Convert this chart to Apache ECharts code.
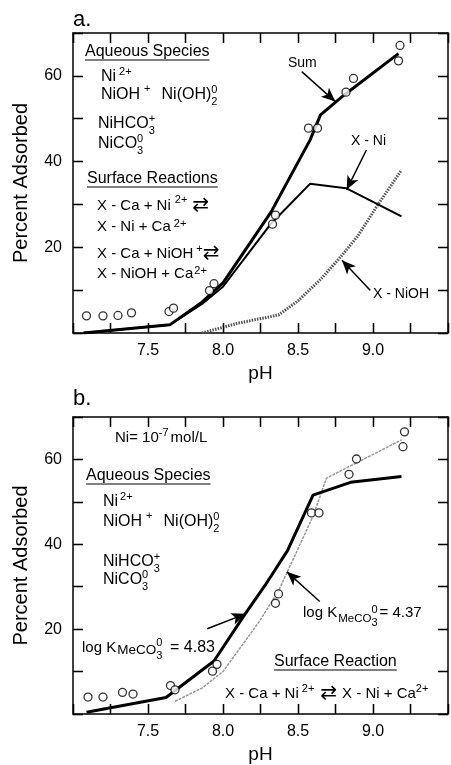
<!DOCTYPE html>
<html><head><meta charset="utf-8">
<script src="https://cdn.jsdelivr.net/npm/echarts@6/dist/echarts.min.js"></script>
<style>html,body{margin:0;padding:0;background:#fff}#c{width:451px;height:765px}</style>
</head><body><div id="c"></div>
<script>
// ---------- Panel a data ----------
const aObsPH   = [7.09, 7.20, 7.30, 7.39, 7.64, 7.67, 7.91, 7.94, 8.33, 8.35, 8.57, 8.63, 8.82, 8.87, 9.18, 9.17];
const aObsPct  = [4.0, 4.0, 4.1, 4.7, 5.0, 5.8, 9.9, 11.5, 25.4, 27.5, 47.8, 47.8, 56.2, 59.4, 67.1, 63.5];
const aSumPH   = [7.07, 7.645, 7.86, 8.0, 8.32, 8.58, 8.65, 8.81, 9.17];
const aSumPct  = [0, 1.9, 7.2, 11.7, 28.2, 45.0, 50.9, 55.6, 65.2];
const aNiPH    = [7.07, 7.645, 7.86, 8.0, 8.32, 8.58, 8.82, 9.19];
const aNiPct   = [0, 1.9, 6.8, 10.8, 25.5, 34.8, 33.8, 27.2];
const aNiOHPH  = [7.86, 8.1, 8.37, 8.5, 8.65, 8.79, 8.9, 9.03, 9.19];
const aNiOHPct = [0, 2.3, 4.2, 7.5, 12.5, 18.0, 22.7, 29.8, 38.0];
// ---------- Panel b data ----------
const bObsPH   = [7.10, 7.20, 7.33, 7.40, 7.65, 7.68, 7.93, 7.96, 8.35, 8.37, 8.59, 8.64, 8.84, 8.89, 9.21, 9.20];
const bObsPct  = [4.0, 4.0, 5.1, 4.7, 6.7, 5.7, 10.1, 11.7, 26.1, 28.3, 47.4, 47.4, 56.5, 60.1, 66.5, 63.0];
const b483PH   = [7.09, 7.62, 7.94, 8.14, 8.28, 8.43, 8.60, 8.85, 9.19];
const b483Pct  = [0.4, 3.9, 12.5, 23.2, 30.3, 38.5, 51.6, 54.6, 56.0];
const b437PH   = [7.68, 7.86, 8.0, 8.24, 8.37, 8.60, 8.69, 8.885, 9.19];
const b437Pct  = [3.0, 6.1, 10.0, 21.7, 29.0, 46.6, 55.6, 59.1, 64.6];
// ---------- Tick labels ----------
const xTickLabels = ['7.5', '8.0', '8.5', '9.0'];
const yTickLabels = ['20', '40', '60'];
// ---------- Annotation arrows (data coords: [start],[tip]) ----------
const aArrowSum  = [[8.525, 61.0], [8.749, 54.0]];
const aArrowNi   = [[8.956, 42.7], [8.824, 33.4]];
const aArrowNiOH = [[8.981, 10.0], [8.793, 17.0]];
const bArrow483  = [[7.895, 20.1], [8.150, 23.6]];
const bArrow437  = [[8.645, 26.5], [8.426, 33.5]];

const X_MIN = 7, X_MAX = 9.5, X_STEP = 0.25, Y_MIN = 0, Y_MAX = 70, Y_STEP = 10;
const TICK_DX = 0.066, TICK_DY = 2.34; // ~10 px inward tick length in data units

const zip = (xs, ys) => xs.map((x, i) => [x, ys[i]]);
const FONT = '"Liberation Sans", Arial, Helvetica, sans-serif';
const mctx = document.createElement('canvas').getContext('2d');
function tw(t, s, f) { mctx.font = s + 'px ' + (f || FONT); return mctx.measureText(t).width; }
function T(x, y, text, size, f) {
  return { type: 'text', x: x, y: y, silent: true, z: 100,
    style: { text: text, fontSize: size, fontFamily: f || FONT, fill: '#000', verticalAlign: 'middle', align: 'left' } };
}
function line(x, y, parts, base) {
  base = base || 16; const out = []; let cx = x;
  for (const p of parts) {
    if (typeof p === 'string') { out.push(T(cx, y, p, base)); cx += tw(p, base); }
    else if (p.gap !== undefined) { cx += p.gap; }
    else if (p.at !== undefined) { cx = p.at; }
    else if (p.t !== undefined) { const s = p.size || base; out.push(T(cx, y + (p.dy || 0), p.t, s, p.f)); cx += tw(p.t, s, p.f); }
    else {
      const s = p.size || 11; let adv = 0;
      if (p.sup !== undefined) { out.push(T(cx, y - (p.up || 6), p.sup, s)); adv = Math.max(adv, tw(p.sup, s)); }
      if (p.sub !== undefined) { out.push(T(cx, y + (p.down || 6), p.sub, s)); adv = Math.max(adv, tw(p.sub, s)); }
      cx += adv;
    }
  }
  return out;
}
function underline(x, y, text, size) {
  const w = tw(text, size);
  return [T(x, y, text, size), { type: 'line', silent: true, z: 100,
    shape: { x1: x, y1: y + 8, x2: x + w, y2: y + 8 }, style: { stroke: '#000', lineWidth: 1 } }];
}
const ARR = { t: '\u21C4', size: 20, f: '"DejaVu Sans", sans-serif' };

const graphics = [].concat(
  [T(73, 20, 'a.', 22), T(73, 399, 'b.', 22)],
  underline(85, 52, 'Aqueous Species', 16),
  line(101, 77, ['Ni', { gap: 3 }, { sup: '2+', up: 5 }]),
  line(101, 95, ['NiOH', { gap: 4 }, { sup: '+', up: 6 }, { gap: 11 }, 'Ni(OH)', { sup: '0', sub: '2', up: 5, down: 7 }]),
  line(98, 124, ['NiHCO', { sup: '+', sub: '3', up: 5, down: 7 }]),
  line(98, 144, ['NiCO', { sup: '0', sub: '3', up: 5, down: 7 }]),
  underline(87, 179, 'Surface Reactions', 16),
  line(97, 206, ['X - Ca + Ni', { gap: 4 }, { sup: '2+', up: 6 }, { gap: 5 }, ARR], 15),
  line(97, 227, ['X - Ni + Ca', { gap: 3 }, { sup: '2+', up: 3 }], 15),
  line(97, 254, ['X - Ca + NiOH', { gap: 3 }, { sup: '+', up: 5 }, { gap: 0 }, ARR], 15),
  line(97, 274, ['X - NiOH + Ca', { gap: 1 }, { sup: '2+', up: 3 }], 15),
  [T(288, 63, 'Sum', 14), T(351, 141, 'X - Ni', 14), T(373, 294, 'X - NiOH', 14)],
  line(115, 438, ['Ni= 10', { sup: '-7', up: 5 }, { gap: 2 }, 'mol/L'], 15),
  underline(86, 476, 'Aqueous Species', 16),
  line(103, 502, ['Ni', { gap: 2 }, { sup: '2+', up: 5 }]),
  line(103, 522, ['NiOH', { gap: 4 }, { sup: '+', up: 6 }, { gap: 11 }, 'Ni(OH)', { sup: '0', sub: '2', up: 5, down: 7 }]),
  line(103, 562, ['NiHCO', { sup: '+', sub: '3', up: 5, down: 7 }]),
  line(103, 580, ['NiCO', { sup: '0', sub: '3', up: 5, down: 7 }]),
  line(82, 648, ['log K', { gap: 1 }, { t: 'MeCO', size: 13.5, dy: 2 }, { sup: '0', sub: '3', up: 5, down: 8 }, { at: 170 }, { t: '= 4.83', size: 16 }], 15),
  line(303, 613, ['log K', { gap: 1 }, { t: 'MeCO', size: 11.5, dy: 6 }, { sup: '0', sub: '3', up: 3, down: 10 }, { gap: 2 }, '= 4.37'], 15),
  underline(274, 662, 'Surface Reaction', 16),
  line(225, 694, ['X - Ca + Ni', { gap: 3 }, { sup: '2+', up: 5 }, { gap: 6 }, ARR, { gap: 5 }, 'X - Ni + Ca', { sup: '2+', up: 5 }], 15)
);

const AX = { color: '#000', width: 1.5 };
const TICK = { show: true, inside: true, length: 10, lineStyle: { color: '#000', width: 1.3 } };
function xAx(grid, pos, labels) {
  return { type: 'value', gridIndex: grid, position: pos, min: X_MIN, max: X_MAX, interval: X_STEP,
    axisLine: { show: true, onZero: false, lineStyle: AX },
    axisTick: TICK,
    splitLine: { show: false },
    axisLabel: { show: labels, margin: 10, fontSize: 16, color: '#000', fontFamily: FONT,
      formatter: v => { const s = v.toFixed(1); return (Math.abs(v * 2 - Math.round(v * 2)) < 1e-6 && xTickLabels.includes(s)) ? s : ''; } },
    name: labels ? 'pH' : '', nameLocation: 'middle', nameGap: 31,
    nameTextStyle: { fontSize: 19, color: '#000', fontFamily: FONT } };
}
function yAx(grid, pos, labels) {
  return { type: 'value', gridIndex: grid, position: pos, min: Y_MIN, max: Y_MAX, interval: Y_STEP,
    axisLine: { show: true, onZero: false, lineStyle: AX },
    axisTick: TICK,
    splitLine: { show: false },
    axisLabel: { show: labels, margin: 11, fontSize: 16, color: '#000', fontFamily: FONT,
      formatter: v => yTickLabels.includes(String(v)) ? String(v) : '' },
    name: labels ? 'Percent Adsorbed' : '', nameLocation: 'middle', nameGap: 42,
    nameTextStyle: { fontSize: 20, color: '#000', fontFamily: FONT } };
}
function arrows(list) {
  return { silent: true, symbol: ['none', 'arrow'], symbolSize: [9, 14], label: { show: false }, animation: false,
    lineStyle: { color: '#000', width: 1.5, type: 'solid' }, emphasis: { disabled: true },
    data: list.map(a => [{ coord: a[0] }, { coord: a[1] }]) };
}
// inward ticks on all four frame sides, built from the axis range/interval
function frameTicks() {
  const d = [];
  for (let v = X_MIN; v <= X_MAX + 1e-9; v += X_STEP) {
    d.push([{ coord: [v, Y_MIN] }, { coord: [v, Y_MIN + TICK_DY] }]);
    d.push([{ coord: [v, Y_MAX] }, { coord: [v, Y_MAX - TICK_DY] }]);
  }
  for (let v = Y_MIN; v <= Y_MAX + 1e-9; v += Y_STEP) {
    d.push([{ coord: [X_MIN, v] }, { coord: [X_MIN + TICK_DX, v] }]);
    d.push([{ coord: [X_MAX, v] }, { coord: [X_MAX - TICK_DX, v] }]);
  }
  return { silent: true, symbol: ['none', 'none'], label: { show: false }, animation: false,
    lineStyle: { color: '#000', width: 1.3, type: 'solid' }, emphasis: { disabled: true }, data: d };
}
const circ = { symbol: 'circle', symbolSize: 8, itemStyle: { color: '#fff', borderColor: '#000', borderWidth: 1.3 } };

const chart = echarts.init(document.getElementById('c'));
chart.setOption({
  animation: false,
  grid: [
    { left: 73, right: 1, top: 33, height: 300 },
    { left: 73, right: 1, top: 417, height: 299 }
  ],
  xAxis: [xAx(0, 'bottom', true), xAx(0, 'top', false), xAx(1, 'bottom', true), xAx(1, 'top', false)],
  yAxis: [yAx(0, 'left', true), yAx(0, 'right', false), yAx(1, 'left', true), yAx(1, 'right', false)],
  series: [
    { type: 'line', name: 'Sum', xAxisIndex: 0, yAxisIndex: 0, data: zip(aSumPH, aSumPct), showSymbol: false,
      lineStyle: { color: '#000', width: 3 }, z: 5, markLine: arrows([aArrowSum, aArrowNi, aArrowNiOH]) },
    { type: 'line', name: 'X - Ni', xAxisIndex: 0, yAxisIndex: 0, data: zip(aNiPH, aNiPct), showSymbol: false,
      lineStyle: { color: '#000', width: 2 }, z: 4 },
    { type: 'line', name: 'X - NiOH', xAxisIndex: 0, yAxisIndex: 0, data: zip(aNiOHPH, aNiOHPct), showSymbol: false,
      lineStyle: { color: '#555', width: 3, type: [1.5, 1.2] }, z: 3 },
    Object.assign({ type: 'scatter', name: 'obs a', xAxisIndex: 0, yAxisIndex: 0, data: zip(aObsPH, aObsPct), z: 6,
      markLine: frameTicks() }, circ),
    { type: 'line', name: 'logK 4.83', xAxisIndex: 2, yAxisIndex: 2, data: zip(b483PH, b483Pct), showSymbol: false,
      lineStyle: { color: '#000', width: 3 }, z: 5, markLine: arrows([bArrow483, bArrow437]) },
    { type: 'line', name: 'logK 4.37', xAxisIndex: 2, yAxisIndex: 2, data: zip(b437PH, b437Pct), showSymbol: false,
      lineStyle: { color: '#999', width: 1.5, type: [3, 1] }, z: 4 },
    Object.assign({ type: 'scatter', name: 'obs b', xAxisIndex: 2, yAxisIndex: 2, data: zip(bObsPH, bObsPct), z: 6,
      markLine: frameTicks() }, circ)
  ],
  graphic: graphics
});
</script>
</body></html>
